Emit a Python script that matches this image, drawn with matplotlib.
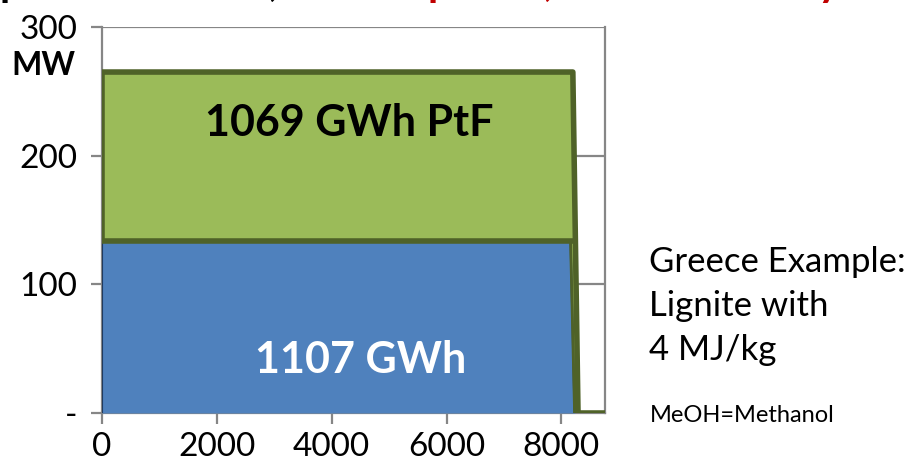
import numpy as np
from matplotlib import pyplot as plt

# Dauerlinie: Braunkohle-Block + PtF (Methanol) obendrauf
hours_lig = [0, 8160, 8230, 8760]
lignite_mw = [134, 134, 0, 0]

hours_tot = [0, 8200, 8290, 8760]
total_mw = [265, 265, 0, 0]   # Braunkohle + PtF

y_ticks = [0, 100, 200, 300]
y_labels = ["-", "100", "200", "300"]
x_ticks = [0, 2000, 4000, 6000, 8000]

green = "#9BBB59"
olive = "#4F6228"
blue = "#4F81BD"
navy = "#1F3A5F"
grey = "#868686"

plt.rcParams['font.family'] = ['Lato', 'DejaVu Sans']

fig = plt.figure(figsize=(9.06, 4.62), dpi=100)
ax = fig.add_axes([102/906, 49/462, 503/906, 386/462])

# gitter
for v in [100, 200, 300]:
    ax.axhline(v, color=grey, lw=1.6, zorder=1)

# flaechen
ax.fill_between(hours_tot, 0, total_mw, color=green, lw=0, zorder=2)
ax.fill_between(hours_lig, 0, lignite_mw, color=blue, lw=0, zorder=3)
ax.plot([0] + hours_lig, [0] + lignite_mw, color=navy, lw=1.5, zorder=4)
ax.plot(hours_lig[:2], lignite_mw[:2], color=olive, lw=4, zorder=5)
ax.plot(hours_lig[1:3], lignite_mw[1:3], color=olive, lw=2, zorder=5)
ax.plot([0] + hours_tot, [lignite_mw[0]] + total_mw, color=olive, lw=4,
        zorder=5, solid_capstyle='round', solid_joinstyle='round')

ax.text(4300, 225, "1069 GWh PtF", fontsize=31, fontweight='bold',
        color='black', ha='center', va='center', zorder=6)
ax.text(4500, 41, "1107 GWh", fontsize=31, fontweight='bold',
        color='white', ha='center', va='center', zorder=6)

ax.set_xlim(0, 8760)
ax.set_ylim(0, 300)
ax.set_yticks(y_ticks)
ax.set_yticklabels(y_labels)
ax.set_xticks(x_ticks)
ax.tick_params(axis='both', colors=grey, labelcolor='black', labelsize=24,
               length=8, width=1.6)
ax.tick_params(axis='y', pad=10)
ax.tick_params(axis='x', pad=5.5)
for s in ['left', 'bottom', 'right']:
    ax.spines[s].set_color(grey)
    ax.spines[s].set_linewidth(1.6)
ax.spines['top'].set_visible(False)

fig.text(75/906, 1 - 66/462, "MW", fontsize=23, fontweight='bold',
         ha='right', va='center')

fig.text(649/906, 1 - 306/462, "Greece Example:\nLignite with\n4 MJ/kg",
         fontsize=25, ha='left', va='center', linespacing=1.45)
fig.text(650/906, 1 - 416/462, "MeOH=Methanol", fontsize=17,
         ha='left', va='center')

# abgeschnittene Titelzeile oben
top = 1 + 4/462
fig.text(0/906, top, "p", fontsize=30, fontweight='bold', va='baseline')
fig.text(268/906, top, ",", fontsize=30, fontweight='bold', va='baseline')
fig.text(428/906, top, "p", fontsize=30, fontweight='bold', color='#C00000', va='baseline')
fig.text(543/906, top, ",", fontsize=30, fontweight='bold', color='#C00000', va='baseline')
fig.text(818/906, top, "y", fontsize=30, fontweight='bold', color='#C00000', va='baseline')

fig.savefig("out.png", dpi=100)
